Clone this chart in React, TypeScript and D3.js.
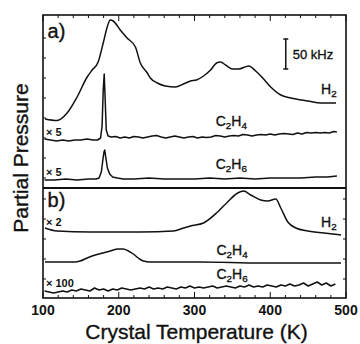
import * as d3 from 'd3';

// ─── Data (temperature K, signal in arbitrary units) ─────────

const xTicks = [100, 200, 300, 400, 500];

// panel a)
const h2A: [number, number][] = [
  [102.6, 69], [118.5, 67.5], [131.8, 75], [145, 91], [158.3, 111], [164.9, 118],
  [172.8, 126], [179.5, 145], [184.8, 161], [188.7, 168], [192.7, 167], [202, 158],
  [211, 150], [222, 141], [228.5, 125], [237.7, 115], [241.7, 110], [251, 105],
  [261.6, 102], [274.8, 101], [285.4, 104], [294.7, 107], [302.6, 108], [311.9, 112],
  [321.2, 118], [329.1, 125], [334.4, 126], [341, 123], [350.3, 119], [358.3, 119],
  [371.5, 122], [380.8, 117], [390, 110], [400.6, 101], [413.9, 93], [427.2, 90],
  [449.7, 87], [466.9, 85], [486.8, 85],
];

const c2h4A: [number, number][] = [
  [102, 49], [110, 48], [118, 47], [126, 48], [134, 47], [142, 48], [150, 48],
  [158, 49], [166, 48], [172, 48], [176, 50], [178, 62], [179.5, 98], [180.8, 114],
  [182, 90], [183.5, 58], [186, 52], [190, 51], [196, 51.5], [202, 50], [208, 51],
  [214, 50], [220, 51.5], [226, 51], [232, 50], [238, 51], [244, 52], [250, 52.5],
  [256, 51], [262, 50], [268, 51], [274, 52], [280, 51], [286, 50], [292, 51],
  [298, 51.5], [304, 50], [310, 51], [316, 50.5], [322, 51], [328, 52.5], [334, 52],
  [340, 51], [346, 52], [352, 52.5], [358, 52], [364, 53.5], [370, 53], [376, 52],
  [382, 53], [388, 53.5], [394, 53], [400, 54], [406, 53], [412, 54], [418, 54.5],
  [424, 54], [430, 53.5], [436, 55], [442, 54], [448, 55.5], [454, 55], [460, 55.5],
  [466, 55], [472, 55.5], [478, 55], [484, 56.5], [488, 56],
];

const c2h6A: [number, number][] = [
  [102, 8], [115, 8], [130, 9], [145, 8], [160, 9], [170, 9], [174, 10], [177, 16],
  [179, 28], [180.5, 36], [181.5, 38], [183, 30], [185, 20], [188, 14], [192, 11],
  [198, 10], [206, 9], [220, 9], [240, 10], [260, 9], [280, 9], [300, 9], [320, 10],
  [340, 9], [360, 10], [380, 9], [400, 10], [420, 10], [440, 10], [460, 11],
  [475, 11], [488, 12],
];

// panel b)
const h2B: [number, number][] = [
  [102.6, 71], [118.5, 68], [162.3, 67], [228.5, 67], [272.2, 68], [285.4, 71],
  [294.7, 73], [311.9, 76], [330.5, 87], [343.7, 97], [357, 106], [364.9, 108],
  [374.2, 104], [387.4, 99], [396.7, 98], [407.3, 100], [413.9, 91], [423.2, 77],
  [433.8, 71], [449.7, 68], [470.9, 66], [493.4, 64],
];

const c2h4B: [number, number][] = [
  [102.6, 37], [122.5, 37], [142.4, 37], [149, 38], [158.3, 41], [168.9, 44],
  [179.5, 46], [188.7, 48], [199.3, 50], [206, 50], [212.6, 48], [219.2, 45],
  [225.8, 41], [232.5, 38], [241.7, 37], [308, 37], [387.4, 36], [493.4, 36],
];

const c2h6BTemps = [
  102, 108, 114, 120, 126, 132, 138, 144, 150, 156, 162, 168, 174, 180, 186, 192,
  198, 204, 210, 216, 222, 228, 234, 240, 246, 252, 258, 264, 270, 276, 282, 288,
  294, 300, 306, 312, 318, 324, 330, 336, 342, 348, 354, 360, 366, 372, 378, 384,
  390, 396, 402, 408, 414, 420, 426, 432, 438, 444, 450, 456, 462, 468, 474, 480, 486,
];
const c2h6BValues = [
  8, 7, 6, 7, 8, 7, 9, 8, 10, 9,
  8, 11, 9, 10, 8, 10, 9, 11, 10, 9,
  10, 11, 10, 12, 10, 11, 10, 12, 11, 10,
  12, 11, 13, 11, 12, 11, 12, 13, 11, 12,
  13, 12, 11, 13, 12, 14, 12, 13, 12, 14,
  13, 12, 14, 13, 15, 13, 14, 16, 13, 15,
  17, 14, 16, 13, 15,
];
const c2h6B: [number, number][] = c2h6BTemps.map((t, i) => [t, c2h6BValues[i]]);

// ─── Layout ─────────────────────────────────────────────────

const W = 360;
const H = 344;
const L = 43;
const R = 346;
const TOP = 15;
const MID = 188;
const BOT = 298;
const FONT = '"Liberation Sans", Arial, Helvetica, sans-serif';
const INK = '#111';

const x = d3.scaleLinear().domain([100, 500]).range([L, R]);
const yA = d3.scaleLinear().domain([0, 173]).range([MID, TOP]);
const yB = d3.scaleLinear().domain([0, 111]).range([299, 188]);

const minorTicks = d3.range(100, 501, 20);

// thicken text a bit, like the scanned original
const heavy = { stroke: INK, strokeWidth: 0.35 };

function Species({ base, sub1, sub2, tx, v, y, size = 14 }: {
  base: [string, string]; sub1: string; sub2?: string; tx: number; v: number;
  y: d3.ScaleLinear<number, number>; size?: number;
}) {
  return (
    <text x={x(tx)} y={y(v)} fontSize={size} fontFamily={FONT} fill={INK} {...heavy}>
      {base[0]}
      <tspan fontSize={size * 0.7} dy={3}>{sub1}</tspan>
      {base[1] && <tspan fontSize={size} dy={-3}>{base[1]}</tspan>}
      {sub2 && <tspan fontSize={size * 0.7} dy={3}>{sub2}</tspan>}
    </text>
  );
}

export default function App() {
  const smooth = (ys: d3.ScaleLinear<number, number>) =>
    d3.line<[number, number]>().x((d) => x(d[0])).y((d) => ys(d[1])).curve(d3.curveMonotoneX);
  const raw = (ys: d3.ScaleLinear<number, number>) =>
    d3.line<[number, number]>().x((d) => x(d[0])).y((d) => ys(d[1]));

  const traceStyle = { fill: 'none', stroke: INK, strokeWidth: 1.5, strokeLinejoin: 'round' as const };

  const barT = 420.5;
  const barBottom = 119;
  const barTop = 149;

  return (
    <svg width={W} height={H} style={{ position: 'absolute', left: 0, top: 0, background: '#fff' }}>
      <rect width={W} height={H} fill="#fff" />

      {/* frame */}
      <rect x={L} y={TOP} width={R - L} height={BOT - TOP} fill="none" stroke={INK} strokeWidth={1.6} />
      <line x1={L} x2={R} y1={MID} y2={MID} stroke={INK} strokeWidth={2} />

      {/* ticks top & bottom */}
      {minorTicks.map((t) => {
        const len = t % 100 === 0 ? 6 : 3;
        return (
          <g key={t} stroke={INK} strokeWidth={1}>
            <line x1={x(t)} x2={x(t)} y1={BOT} y2={BOT - len} />
            <line x1={x(t)} x2={x(t)} y1={TOP} y2={TOP + len} />
          </g>
        );
      })}
      {d3.range(10, 170, 20).map((v) => (
        <line key={'la' + v} x1={L} x2={L + 3} y1={yA(v)} y2={yA(v)} stroke={INK} />
      ))}
      {d3.range(20, 110, 20).map((v) => (
        <line key={'lb' + v} x1={L} x2={L + 3} y1={yB(v)} y2={yB(v)} stroke={INK} />
      ))}
      {d3.range(20, 110, 20).map((v) => (
        <line key={'rb' + v} x1={R} x2={R - 3} y1={yB(v)} y2={yB(v)} stroke={INK} />
      ))}

      {/* x tick labels */}
      {xTicks.map((t) => (
        <text key={t} x={x(t)} y={315} textAnchor="middle" fontSize={14} fontWeight="bold"
          fontFamily={FONT} fill={INK}>{t}</text>
      ))}

      <text x={(L + R) / 2 + 2} y={339} textAnchor="middle" fontSize={21} fontFamily={FONT}
        fill={INK} {...heavy}>
        Crystal Temperature (K)
      </text>
      <text transform={`translate(28,158) rotate(-90)`} textAnchor="middle" fontSize={21}
        fontFamily={FONT} fill={INK} {...heavy}>Partial Pressure</text>

      {/* traces */}
      <path d={smooth(yA)(h2A) ?? ''} {...traceStyle} />
      <path d={raw(yA)(c2h4A) ?? ''} {...traceStyle} />
      <path d={raw(yA)(c2h6A) ?? ''} {...traceStyle} />
      <path d={smooth(yB)(h2B) ?? ''} {...traceStyle} />
      <path d={smooth(yB)(c2h4B) ?? ''} {...traceStyle} />
      <path d={raw(yB)(c2h6B) ?? ''} {...traceStyle} />

      {/* scale bar */}
      <g stroke={INK} strokeWidth={1.5}>
        <line x1={x(barT)} x2={x(barT)} y1={yA(barBottom)} y2={yA(barTop)} />
        <line x1={x(barT) - 2.5} x2={x(barT) + 2.5} y1={yA(barBottom)} y2={yA(barBottom)} />
        <line x1={x(barT) - 2.5} x2={x(barT) + 2.5} y1={yA(barTop)} y2={yA(barTop)} />
      </g>
      <text x={x(barT) + 7} y={yA(129)} fontSize={13} fontFamily={FONT} fill={INK} {...heavy}>50 kHz</text>

      {/* panel labels */}
      <text x={x(106)} y={yA(150)} fontSize={20} fontFamily={FONT} fill={INK} {...heavy}>a)</text>
      <text x={x(106)} y={yB(92)} fontSize={20} fontFamily={FONT} fill={INK} {...heavy}>b)</text>

      {/* multipliers */}
      <text x={x(104)} y={yA(52)} fontSize={11} fontWeight="bold" fontFamily={FONT} fill={INK}>× 5</text>
      <text x={x(104)} y={yA(12)} fontSize={11} fontWeight="bold" fontFamily={FONT} fill={INK}>× 5</text>
      <text x={x(104)} y={yB(73)} fontSize={11} fontWeight="bold" fontFamily={FONT} fill={INK}>× 2</text>
      <text x={x(104)} y={yB(12)} fontSize={11} fontWeight="bold" fontFamily={FONT} fill={INK}>× 100</text>

      {/* species labels */}
      <Species base={['H', '']} sub1="2" tx={467} v={94} y={yA} />
      <Species base={['C', 'H']} sub1="2" sub2="4" tx={328} v={62} y={yA} />
      <Species base={['C', 'H']} sub1="2" sub2="6" tx={328} v={19} y={yA} />
      <Species base={['H', '']} sub1="2" tx={467} v={72} y={yB} />
      <Species base={['C', 'H']} sub1="2" sub2="4" tx={329} v={44} y={yB} />
      <Species base={['C', 'H']} sub1="2" sub2="6" tx={329} v={20} y={yB} />
    </svg>
  );
}
